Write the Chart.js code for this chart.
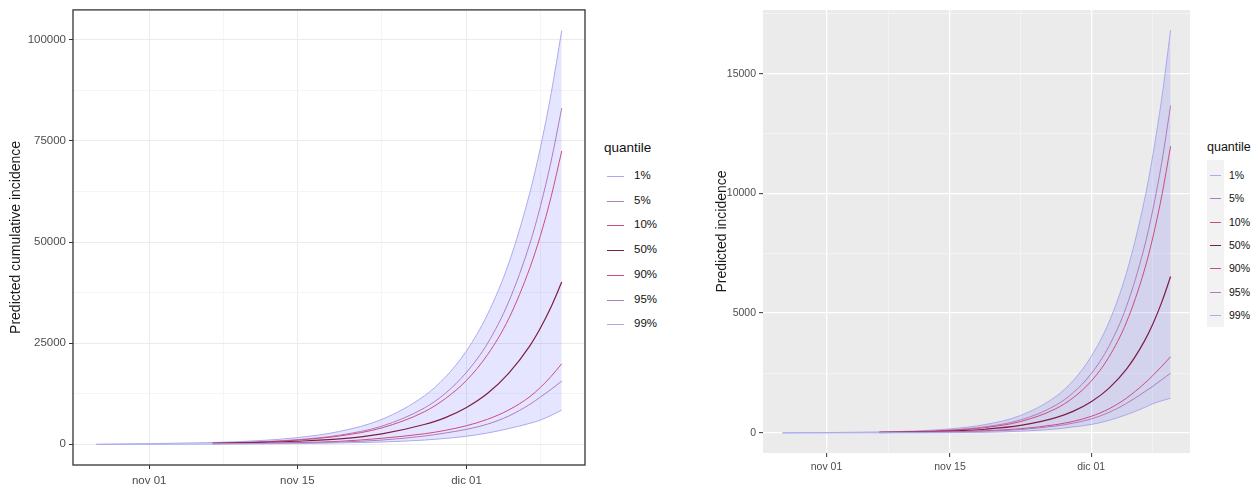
<!DOCTYPE html>
<html>
<head>
<meta charset="utf-8">
<script src="https://cdn.jsdelivr.net/npm/chart.js@4"></script>
<style>
  html, body { margin: 0; padding: 0; background: #fff; }
  body { width: 1255px; height: 488px; position: relative; overflow: hidden; font-family: "Liberation Sans", Arial, sans-serif; }
  canvas { position: absolute; top: 0; }
  #cumChart { left: 0; }
  #incChart { left: 690px; }
  .leg { position: absolute; left: 0; top: 0; color: #111; white-space: nowrap; }
  .leg div { position: absolute; }
</style>
</head>
<body>
<canvas id="cumChart" width="600" height="488"></canvas>
<canvas id="incChart" width="510" height="488"></canvas>
<div id="legLeft" class="leg"></div>
<div id="legRight" class="leg"></div>

<script>
// days counted from nov 01 (0 = nov 01, 39 = dic 10)
const days = [-5, 6, 10, 14, 18, 22, 26, 28, 30, 32, 34, 36, 37, 38, 39];

const quantiles = ['1%', '5%', '10%', '50%', '90%', '95%', '99%'];
const lineColors = ['#aaaaee', '#b07cbc', '#cc4c80', '#7d1d45', '#cc4c80', '#b07cbc', '#aaaaee'];

// predicted cumulative incidence (left panel)
const cum1  = [0, 60, 110, 180, 350, 570, 1050, 1450, 2000, 2800, 3900, 5200, 6000, 7150, 8450];
const cum5  = [null, 120, 200, 330, 560, 1050, 2040, 2800, 3700, 5000, 7000, 9900, 11700, 13600, 15600];
const cum10 = [null, 150, 250, 420, 740, 1500, 2600, 3450, 4600, 6200, 8500, 11800, 14100, 16800, 19900];
const cum50 = [null, 230, 420, 760, 1350, 2600, 4900, 6600, 9100, 12600, 17600, 24400, 28800, 34000, 40100];
const cum90 = [null, 270, 530, 1040, 2060, 4070, 8030, 11300, 15800, 22200, 31100, 43700, 51700, 61200, 72500];
const cum95 = [null, 290, 570, 1140, 2260, 4500, 8950, 12600, 17800, 25000, 35300, 49700, 59000, 70000, 83100];
const cum99 = [0, 440, 850, 1650, 3190, 6170, 11950, 16600, 23100, 32200, 44800, 62300, 73500, 86700, 102250];

// predicted daily incidence (right panel)
const inc1  = [0, 2, 5, 12, 25, 70, 160, 250, 350, 520, 760, 1050, 1220, 1340, 1450];
const inc5  = [null, 9, 18, 36, 70, 140, 290, 410, 580, 850, 1230, 1700, 1950, 2220, 2490];
const inc10 = [null, 11, 22, 44, 87, 173, 344, 484, 690, 1000, 1450, 2050, 2400, 2780, 3180];
const inc50 = [null, 17, 36, 74, 151, 309, 634, 907, 1300, 1860, 2660, 3810, 4560, 5460, 6530];
const inc90 = [null, 23, 48, 103, 221, 473, 1010, 1480, 2160, 3160, 4620, 6760, 8180, 9900, 11970];
const inc95 = [null, 26, 55, 118, 253, 540, 1155, 1690, 2470, 3610, 5280, 7720, 9340, 11300, 13670];
const inc99 = [0, 38, 79, 166, 347, 727, 1520, 2200, 3190, 4610, 6680, 9660, 11620, 13980, 16820];

// axis breaks
const xMajorDays = [0, 14, 30];
const xMajorLabels = ['nov 01', 'nov 15', 'dic 01'];
const xMinorDays = [7, 22, 37];
const cumMajor = [0, 25000, 50000, 75000, 100000];
const cumMinor = [12500, 37500, 62500, 87500];
const incMajor = [0, 5000, 10000, 15000];
const incMinor = [2500, 7500, 12500, 17500];

const cumSeries = [cum1, cum5, cum10, cum50, cum90, cum95, cum99];
const incSeries = [inc1, inc5, inc10, inc50, inc90, inc95, inc99];

function expand(lo, hi) {
    const pad = (hi - lo) * 0.05;
    return [lo - pad, hi + pad];
}

function makeDatasets(series) {
    return series.map((vals, i) => ({
        label: quantiles[i],
        data: days.map((d, j) => ({ x: d, y: vals[j] })),
        borderColor: lineColors[i],
        borderWidth: i === 3 ? 1.2 : 1,
        pointRadius: 0,
        cubicInterpolationMode: 'monotone',
        spanGaps: false,
        fill: i === series.length - 1 ? 0 : false,
        backgroundColor: 'rgba(0, 0, 255, 0.1)'
    }));
}

const panelBorder = {
    id: 'panelBorder',
    afterDraw(chart, args, opts) {
        if (!opts.color) return;
        const a = chart.chartArea;
        const c = chart.ctx;
        c.save();
        c.strokeStyle = opts.color;
        c.lineWidth = 1.3;
        c.strokeRect(a.left, a.top, a.right - a.left, a.bottom - a.top);
        c.restore();
    }
};

const panelBg = {
    id: 'panelBg',
    beforeDraw(chart, args, opts) {
        if (!opts.color) return;
        const a = chart.chartArea;
        const c = chart.ctx;
        c.save();
        c.fillStyle = opts.color;
        c.fillRect(a.left, a.top, a.right - a.left, a.bottom - a.top);
        c.restore();
    }
};

function makeChart(id, series, cfg) {
    const allVals = series.flat().filter(v => v !== null);
    const [yMin, yMax] = expand(Math.min(...allVals), Math.max(...allVals));
    const [xMin, xMax] = expand(days[0], days[days.length - 1]);
    const xTicks = [...xMajorDays, ...xMinorDays].sort((a, b) => a - b);
    const yTicks = [...cfg.major, ...cfg.minor].sort((a, b) => a - b).filter(v => v <= yMax);
    const font = { family: '"Liberation Sans", Arial, sans-serif', size: cfg.tickSize };

    return new Chart(document.getElementById(id), {
        type: 'line',
        data: { datasets: makeDatasets(series) },
        plugins: [panelBg, panelBorder],
        options: {
            responsive: false,
            animation: false,
            layout: { padding: cfg.padding },
            plugins: {
                legend: { display: false },
                tooltip: { enabled: false },
                filler: { drawTime: 'beforeDatasetsDraw' },
                panelBorder: { color: cfg.border },
                panelBg: { color: cfg.bg }
            },
            scales: {
                x: {
                    type: 'linear',
                    min: xMin,
                    max: xMax,
                    afterBuildTicks: s => { s.ticks = xTicks.map(v => ({ value: v })); },
                    afterFit: s => { s.height = cfg.xHeight; },
                    border: { display: false },
                    grid: {
                        color: c => xMajorDays.includes(c.tick.value) ? cfg.gridMajor : cfg.gridMinor,
                        lineWidth: c => xMajorDays.includes(c.tick.value) ? cfg.majorW : cfg.minorW,
                        tickColor: c => xMajorDays.includes(c.tick.value) ? '#333333' : 'rgba(0,0,0,0)',
                        tickLength: 4,
                        tickWidth: 1
                    },
                    ticks: {
                        autoSkip: false,
                        maxRotation: 0,
                        padding: cfg.xPad,
                        color: '#4d4d4d',
                        font: font,
                        callback: v => {
                            const k = xMajorDays.indexOf(v);
                            return k >= 0 ? xMajorLabels[k] : '';
                        }
                    }
                },
                y: {
                    type: 'linear',
                    min: yMin,
                    max: yMax,
                    afterBuildTicks: s => { s.ticks = yTicks.map(v => ({ value: v })); },
                    afterFit: s => { s.width = cfg.yWidth; },
                    border: { display: false },
                    grid: {
                        color: c => cfg.major.includes(c.tick.value) ? cfg.gridMajor : cfg.gridMinor,
                        lineWidth: c => cfg.major.includes(c.tick.value) ? cfg.majorW : cfg.minorW,
                        tickColor: c => cfg.major.includes(c.tick.value) ? '#333333' : 'rgba(0,0,0,0)',
                        tickLength: 4,
                        tickWidth: 1
                    },
                    ticks: {
                        autoSkip: false,
                        padding: 3,
                        color: '#4d4d4d',
                        font: font,
                        callback: v => cfg.major.includes(v) ? String(v) : ''
                    },
                    title: {
                        display: true,
                        text: cfg.yTitle,
                        color: '#1a1a1a',
                        font: { family: '"Liberation Sans", Arial, sans-serif', size: 14 },
                        padding: { top: cfg.titlePad, bottom: 0 }
                    }
                }
            }
        }
    });
}

makeChart('cumChart', cumSeries, {
    major: cumMajor, minor: cumMinor,
    padding: { left: 0, right: 15, top: 8, bottom: 0 },
    yWidth: 73, xHeight: 23, xPad: 5, titlePad: 8,
    yTitle: 'Predicted cumulative incidence',
    tickSize: 11.5,
    gridMajor: '#ebebeb', gridMinor: '#f2f2f2', majorW: 1, minorW: 0.8,
    border: '#333333', bg: null
});

makeChart('incChart', incSeries, {
    major: incMajor, minor: incMinor,
    padding: { left: 0, right: 10, top: 10, bottom: 0 },
    yWidth: 73, xHeight: 35, xPad: 4, titlePad: 24,
    yTitle: 'Predicted incidence',
    tickSize: 10.5,
    gridMajor: '#ffffff', gridMinor: '#f6f6f6', majorW: 1.3, minorW: 0.7,
    border: null, bg: '#ebebeb'
});

// legends
function buildLegend(elId, o) {
    const el = document.getElementById(elId);
    let html = `<div style="left:${o.titleX}px;top:${o.titleY}px;font-size:${o.titleSize}px">quantile</div>`;
    if (o.keyBg) {
        html += `<div style="left:${o.keyX - 3}px;top:${o.keyTop}px;width:${o.keyW + 6}px;height:${o.keyH}px;background:${o.keyBg}"></div>`;
    }
    quantiles.forEach((q, i) => {
        const cy = Math.round(o.firstY + i * o.step);
        html += `<div style="left:${o.keyX}px;top:${cy}px;width:${o.keyW}px;height:1px;background:${lineColors[i]}"></div>`;
        html += `<div style="left:${o.textX}px;top:${cy - Math.round(o.labSize * 0.6)}px;font-size:${o.labSize}px">${q}</div>`;
    });
    el.innerHTML = html;
}

buildLegend('legLeft', {
    titleX: 604, titleY: 140, titleSize: 13.5,
    keyX: 607, keyW: 17, firstY: 176, step: 24.7,
    textX: 634, labSize: 11.5, keyBg: null
});

buildLegend('legRight', {
    titleX: 1207, titleY: 140, titleSize: 12.5,
    keyX: 1210, keyW: 11, firstY: 175, step: 23.3,
    textX: 1229, labSize: 10.5, keyBg: '#f2f2f2', keyTop: 160, keyH: 167
});
</script>
</body>
</html>
